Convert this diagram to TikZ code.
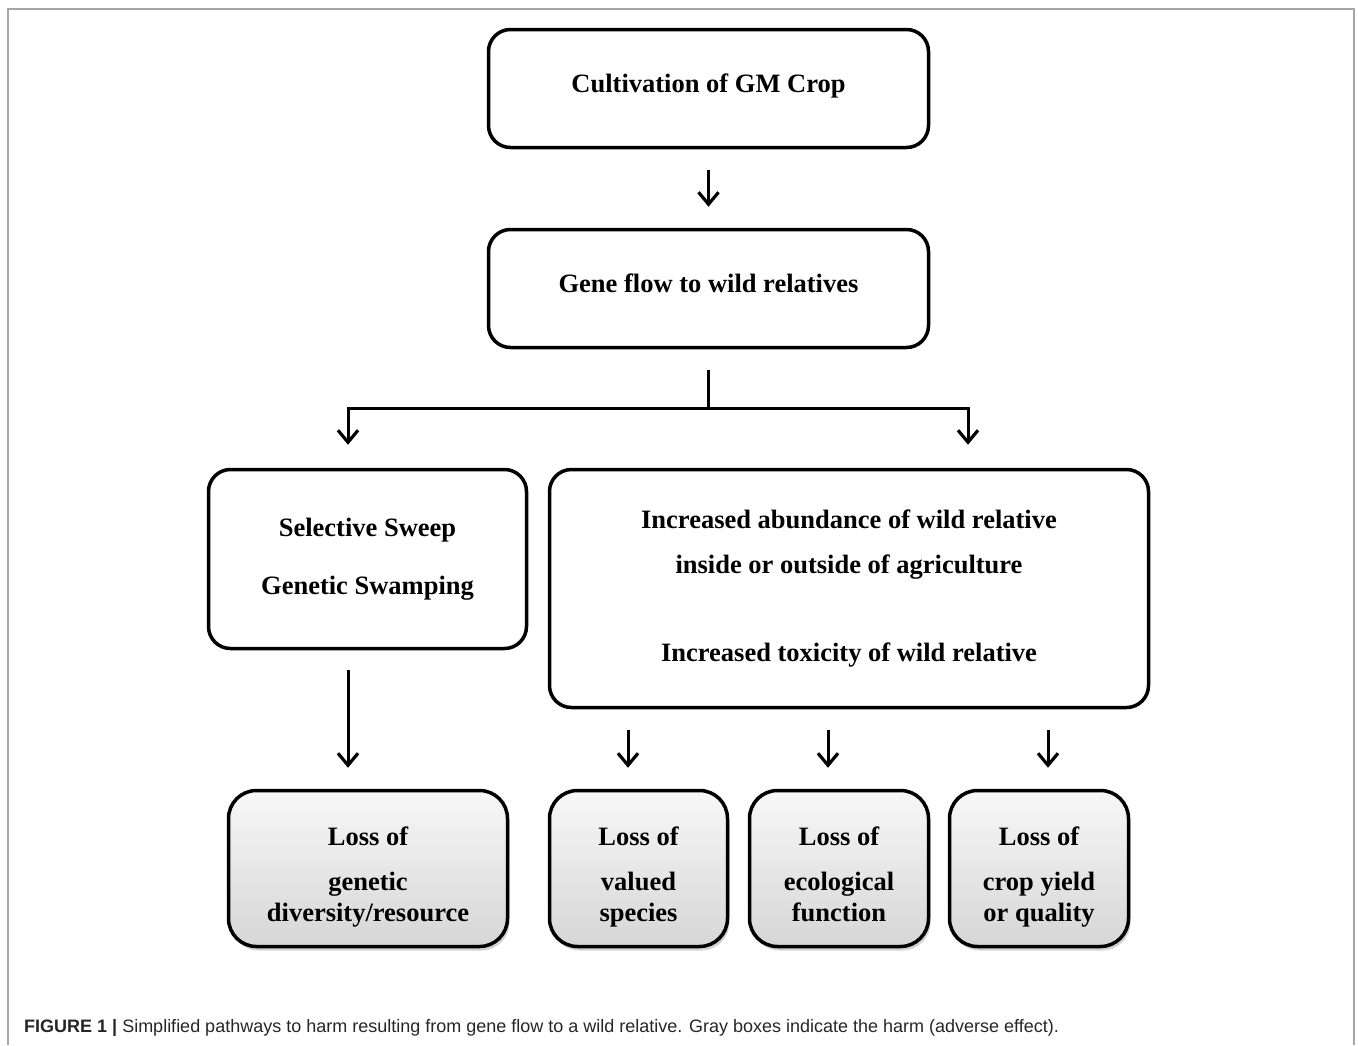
\documentclass[tikz,border=0pt]{standalone}
\usepackage{fontspec}
\setmainfont{Liberation Serif}
\newfontfamily\capfont{Liberation Sans}
\usepackage{tikz}
\usetikzlibrary{arrows.meta,shadows}

\begin{document}
\begin{tikzpicture}[x=1pt,y=-1pt,
	stepbox/.style={draw,line width=3.5pt,rounded corners=22pt,fill=white,
		inner sep=0pt,align=center,font=\fontsize{26.5}{31}\selectfont\bfseries},
	harmbox/.style={stepbox,rounded corners=28pt,top color=gray!6,bottom color=gray!32,
		drop shadow={opacity=0.35,shadow xshift=2pt,shadow yshift=-4pt}},
	flowarrow/.style={->,line width=3pt,>={Straight Barb[length=12pt,width=20pt,line width=3.2pt]}}]
		\useasboundingbox (0,0) rectangle (1358,1045);
		\draw[gray!70,line width=1.5pt] (8,1045) -- (8,9) -- (1354,9) -- (1354,1045);
		%
		\node[stepbox,minimum width=440pt,minimum height=118pt] (crop) at (708.5,88.5) {Cultivation of GM Crop\rule[-11pt]{0pt}{0pt}};
		\node[stepbox,minimum width=440pt,minimum height=118pt] (flow) at (708.5,288.5) {Gene flow to wild relatives\rule[-11pt]{0pt}{0pt}};
		\node[stepbox,minimum width=318pt,minimum height=179pt] (sweep) at (367.5,559) {Selective Sweep\\[27pt]Genetic Swamping};
		\node[stepbox,minimum width=599pt,minimum height=238pt] (abund) at (849,588.5)
			{Increased abundance of wild relative\\[14pt]inside or outside of agriculture\\[57pt]Increased toxicity of wild relative};
		%
		\node[harmbox,minimum width=279pt,minimum height=156pt] (harmA) at (368,868.5) {\rule{0pt}{40pt}Loss of\\[14pt]genetic\\diversity/resource\strut};
		\node[harmbox,minimum width=178pt,minimum height=156pt] (harmB) at (638.5,868.5) {\rule{0pt}{40pt}Loss of\\[14pt]valued\\species\strut};
		\node[harmbox,minimum width=179pt,minimum height=156pt] (harmC) at (839,868.5) {\rule{0pt}{40pt}Loss of\\[14pt]ecological\\function\strut};
		\node[harmbox,minimum width=179pt,minimum height=156pt] (harmD) at (1039,868.5) {\rule{0pt}{40pt}Loss of\\[14pt]crop yield\\or quality\strut};
		%
		\coordinate (split) at (708.5,408);
		\draw[flowarrow,shorten <=21pt,shorten >=21pt] (crop) -- (flow);
		\draw[line width=3pt,shorten <=21pt] (flow) -- (split);
		\draw[flowarrow,shorten >=23pt] (split) -| ([xshift=-19.5pt]sweep.north);
		\draw[flowarrow,shorten >=23pt] (split) -| ([xshift=119pt]abund.north);
		\draw[flowarrow,shorten <=20pt,shorten >=21pt] ([xshift=-19.5pt]sweep.south) -- ([xshift=-20pt]harmA.north);
		\draw[flowarrow,shorten <=21pt,shorten >=21pt] ([xshift=-10.5pt]harmB.north |- abund.south) -- ([xshift=-10.5pt]harmB.north);
		\draw[flowarrow,shorten <=21pt,shorten >=21pt] ([xshift=-11pt]harmC.north |- abund.south) -- ([xshift=-11pt]harmC.north);
		\draw[flowarrow,shorten <=21pt,shorten >=21pt] ([xshift=9pt]harmD.north |- abund.south) -- ([xshift=9pt]harmD.north);
		%
		\node[anchor=west,inner sep=0pt,text=black!85,font=\capfont\fontsize{18}{22}\selectfont] (caption) at (24,1028)
			{\textbf{FIGURE 1 |} Simplified pathways to harm resulting from gene flow to a wild relative. Gray boxes indicate the harm (adverse effect).};
\end{tikzpicture}
\end{document}
